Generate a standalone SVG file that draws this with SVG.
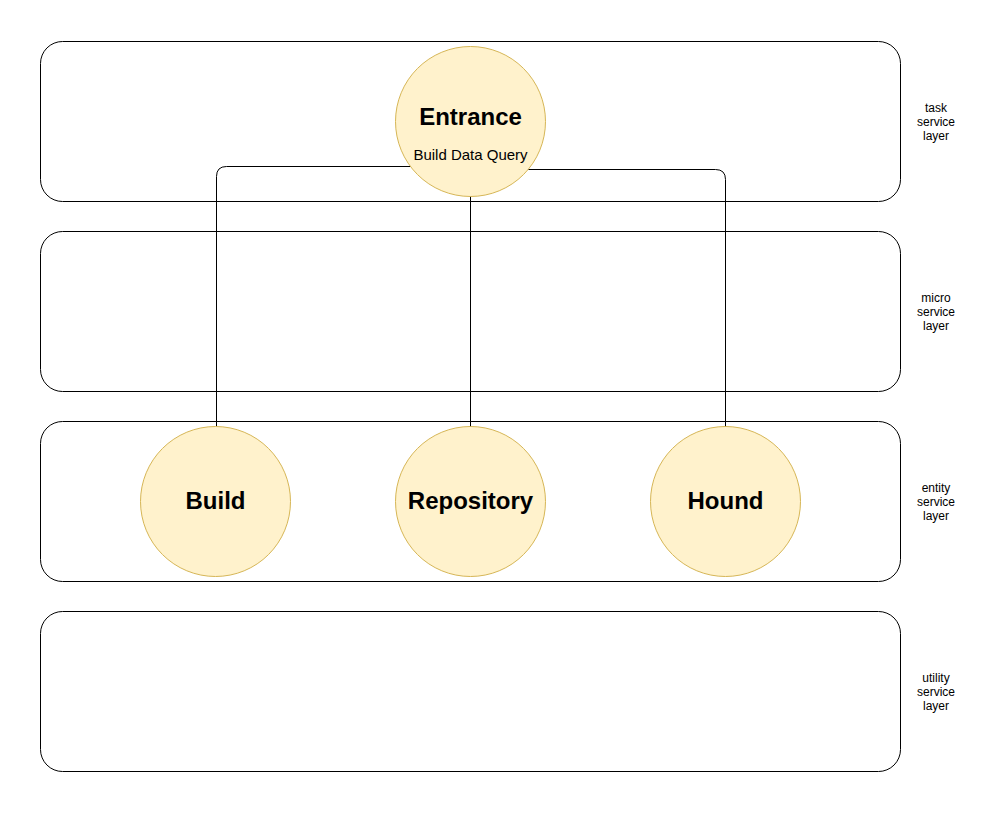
<svg xmlns="http://www.w3.org/2000/svg" width="1001" height="813" viewBox="0 0 1001 813">
<style>
.layer{fill:#fff;stroke:#000;stroke-width:1}
.node{fill:#fff2cc;stroke:#d6b656;stroke-width:1}
.conn{fill:none;stroke:#000;stroke-width:1}
.lbl{font-family:"Liberation Sans",Arial,sans-serif;font-size:12px;fill:#000;text-anchor:middle}
.big{font-family:"Liberation Sans",Arial,sans-serif;font-size:24px;font-weight:bold;fill:#000;text-anchor:middle}
.sub{font-family:"Liberation Sans",Arial,sans-serif;font-size:15px;fill:#000;text-anchor:middle}
</style>
<rect width="1001" height="813" fill="#fff"/>
<g id="layer-task"><rect class="layer" x="40.5" y="41.5" width="860" height="160" rx="22"/>
<text class="lbl"><tspan x="936" y="112">task</tspan><tspan x="936" y="126">service</tspan><tspan x="936" y="140">layer</tspan></text></g>
<g id="layer-micro"><rect class="layer" x="40.5" y="231.5" width="860" height="160" rx="22"/>
<text class="lbl"><tspan x="936" y="302">micro</tspan><tspan x="936" y="316">service</tspan><tspan x="936" y="330">layer</tspan></text></g>
<g id="layer-entity"><rect class="layer" x="40.5" y="421.5" width="860" height="160" rx="22"/>
<text class="lbl"><tspan x="936" y="492">entity</tspan><tspan x="936" y="506">service</tspan><tspan x="936" y="520">layer</tspan></text></g>
<g id="layer-utility"><rect class="layer" x="40.5" y="611.5" width="860" height="160" rx="22"/>
<text class="lbl"><tspan x="936" y="682">utility</tspan><tspan x="936" y="696">service</tspan><tspan x="936" y="710">layer</tspan></text></g>
<g id="connectors">
<path class="conn" d="M411 166.5 H226.5 Q216.5 166.5 216.5 176.5 V427"/>
<path class="conn" d="M470.5 196 V427"/>
<path class="conn" d="M527 169.5 H715.5 Q725.5 169.5 725.5 179.5 V427"/>
</g>
<g id="entrance"><circle class="node" cx="470.5" cy="121.5" r="75"/>
<text class="big" x="470.5" y="124.5">Entrance</text>
<text class="sub" x="470.5" y="160">Build Data Query</text></g>
<g id="build"><circle class="node" cx="215.5" cy="501.5" r="75"/>
<text class="big" x="215.5" y="509">Build</text></g>
<g id="repository"><circle class="node" cx="470.5" cy="501.5" r="75"/>
<text class="big" x="470.5" y="509">Repository</text></g>
<g id="hound"><circle class="node" cx="725.5" cy="501.5" r="75"/>
<text class="big" x="725.5" y="509">Hound</text></g>
</svg>
